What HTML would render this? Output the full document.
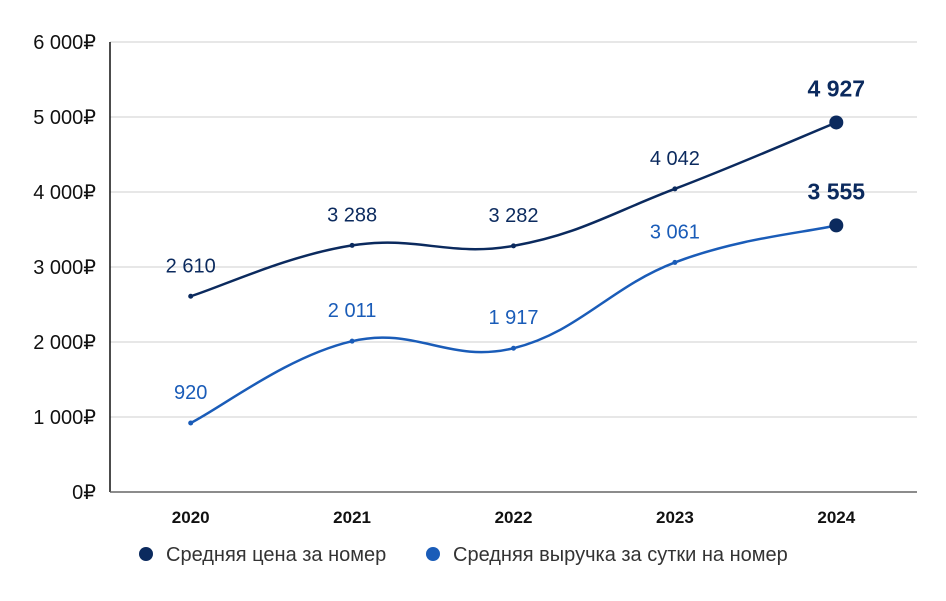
<!DOCTYPE html>
<html><head><meta charset="utf-8"><style>
body{margin:0;background:#fff;width:946px;height:596px;overflow:hidden;font-family:"Liberation Sans",sans-serif}
</style></head><body>
<svg id="c" width="946" height="596"></svg>
<script>
const categories=["2020","2021","2022","2023","2024"];
const priceValues=[2610,3288,3282,4042,4927];
const revenueValues=[920,2011,1917,3061,3555];
const yTicks=[0,1000,2000,3000,4000,5000,6000];
const yTickLabels=["0₽","1 000₽","2 000₽","3 000₽","4 000₽","5 000₽","6 000₽"];
const seriesNames=["Средняя цена за номер","Средняя выручка за сутки на номер"];
const seriesColors=["#0b2a5e","#1a5cb8"];
const svg=document.getElementById('c');const NS="http://www.w3.org/2000/svg";
const L=110,R=917,T=42,B=492,yMax=6000;
const x=i=>L+(R-L)/categories.length*(i+0.5);
const y=v=>B-(B-T)*v/yMax;
function mk(t,a,p){const e=document.createElementNS(NS,t);for(const k in a)e.setAttribute(k,a[k]);(p||svg).appendChild(e);return e;}
const fmt=v=>String(v).replace(/\B(?=(\d{3})+(?!\d))/g," ");
yTicks.forEach((t,i)=>{
 if(t>0){const g=mk('line',{x1:L,x2:R,y1:y(t),y2:y(t),stroke:'#cfcfcf','stroke-width':1});
 
 }
 const l=mk('text',{x:96,y:y(t)+7,'text-anchor':'end','font-size':20,fill:'#111'});l.textContent=yTickLabels[i];
 
 
});
const ax=mk('line',{x1:L,x2:L,y1:T,y2:B,stroke:'#111','stroke-width':1.5});


const bx=mk('line',{x1:L,x2:R,y1:B,y2:B,stroke:'#666','stroke-width':1.5});


categories.forEach((c,i)=>{const t=mk('text',{x:x(i),y:523,'text-anchor':'middle','font-size':17,'font-weight':'bold',fill:'#111'});t.textContent=c;
 
 });
function path(vals){const p=vals.map((v,i)=>[x(i),y(v)]);let d=`M${p[0][0]},${p[0][1]}`;
 for(let i=0;i<p.length-1;i++){const p0=p[Math.max(i-1,0)],p1=p[i],p2=p[i+1],p3=p[Math.min(i+2,p.length-1)];const k=0.2;
 d+=` C${p1[0]+(p2[0]-p0[0])*k},${p1[1]+(p2[1]-p0[1])*k} ${p2[0]-(p3[0]-p1[0])*k},${p2[1]-(p3[1]-p1[1])*k} ${p2[0]},${p2[1]}`;}return d;}
[priceValues,revenueValues].forEach((vals,s)=>{
 const col=seriesColors[s];
 const ln=mk('path',{d:path(vals),fill:'none',stroke:col,'stroke-width':2.5});
 
 
 vals.forEach((v,i)=>{const last=i===vals.length-1;
  const d=mk('circle',{cx:x(i),cy:y(v),r:last?7:2.5,fill:last?seriesColors[0]:col});
  
  
  const t=mk('text',{x:x(i),y:y(v)-(last?26:24),'text-anchor':'middle','font-size':last?23:20,'font-weight':last?'bold':'normal',fill:last?seriesColors[0]:col});t.textContent=fmt(v);
  
  
 });
});
const lx=[146,433];
seriesNames.forEach((n,s)=>{
 const c=mk('circle',{cx:lx[s],cy:554,r:7,fill:seriesColors[s]});
 
 
 const t=mk('text',{x:lx[s]+20,y:561,'font-size':20,fill:'#333'});t.textContent=n;
 
 
});
</script>
</body></html>
